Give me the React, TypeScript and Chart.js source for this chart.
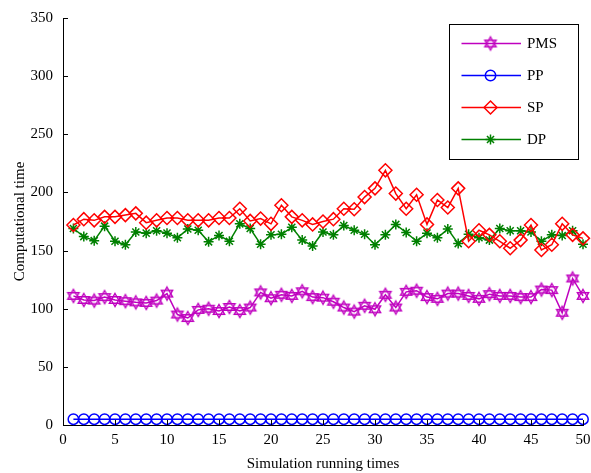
import { useEffect, useRef } from 'react';
import { Chart, registerables } from 'chart.js';
import { drawPoint } from 'chart.js/helpers';

Chart.register(...registerables);

const runs = [1, 2, 3, 4, 5, 6, 7, 8, 9, 10, 11, 12, 13, 14, 15, 16, 17, 18, 19, 20, 21, 22, 23, 24, 25, 26, 27, 28, 29, 30, 31, 32, 33, 34, 35, 36, 37, 38, 39, 40, 41, 42, 43, 44, 45, 46, 47, 48, 49, 50];

const pmsTimes = [111, 107.5, 107, 110, 107.5, 106.5, 105.5, 105, 107, 113, 95, 92, 99, 100, 98, 101.5, 98, 101, 114, 109, 112, 111, 115, 110, 109.5, 106, 101, 97.5, 102.5, 99.5, 112, 101, 114.5, 115.5, 110, 108.5, 113, 113, 111, 108.5, 112.5, 111, 111, 110, 110, 116.5, 116, 96.5, 126, 111];

const ppTimes = [5, 5, 5, 5, 5, 5, 5, 5, 5, 5, 5, 5, 5, 5, 5, 5, 5, 5, 5, 5, 5, 5, 5, 5, 5, 5, 5, 5, 5, 5, 5, 5, 5, 5, 5, 5, 5, 5, 5, 5, 5, 5, 5, 5, 5, 5, 5, 5, 5, 5];

const spTimes = [172, 177, 176, 179, 179, 180.5, 182, 174, 176, 178, 178, 176, 176, 176, 178, 178, 186, 175.5, 177.5, 173, 189, 179, 176, 172.5, 175, 177, 186, 185.5, 196, 203.5, 219, 199, 186, 198, 172.5, 193.5, 187, 203.5, 158, 167.5, 163.5, 158, 152, 159, 172, 150.5, 155, 173, 163.5, 160.5];

const dpTimes = [169, 162, 158.5, 171, 158, 155, 166, 165, 167, 165, 161, 168.5, 167.5, 157.5, 163, 158, 173, 169, 155.5, 163.5, 164, 170, 159, 154, 166, 163.5, 171.5, 167.5, 164, 155, 163.5, 172.5, 165.5, 158, 165, 161, 168.5, 156, 164, 161, 159, 169, 167, 167, 166, 158, 163.5, 163, 167, 155.5];

const seriesNames = ['PMS', 'PP', 'SP', 'DP'];
const xTicks = [0, 5, 10, 15, 20, 25, 30, 35, 40, 45, 50];
const yTicks = [0, 50, 100, 150, 200, 250, 300, 350];

const FONT = "'Liberation Serif', 'Times New Roman', serif";
const MAGENTA = '#bf00bf';
const BLUE = '#0000ff';
const RED = '#ff0000';
const GREEN = '#008000';

function makeHexagram(color: string, r: number, lw: number) {
  const size = 18;
  const c = document.createElement('canvas');
  c.width = size;
  c.height = size;
  const ctx = c.getContext('2d')!;
  ctx.strokeStyle = color;
  ctx.lineWidth = lw;
  ctx.lineJoin = 'miter';
  const cx = size / 2;
  const cy = size / 2;
  for (const off of [-Math.PI / 2, Math.PI / 2]) {
    ctx.beginPath();
    for (let k = 0; k < 3; k++) {
      const a = off + (k * 2 * Math.PI) / 3;
      const px = cx + r * Math.cos(a);
      const py = cy + r * Math.sin(a);
      if (k === 0) ctx.moveTo(px, py);
      else ctx.lineTo(px, py);
    }
    ctx.closePath();
    ctx.stroke();
  }
  return c;
}

function toXY(values: number[]) {
  return runs.map((r, i) => ({ x: r, y: values[i] }));
}

export default function App() {
  const ref = useRef<HTMLCanvasElement>(null);

  useEffect(() => {
    const canvas = ref.current!;
    const hexagram = makeHexagram(MAGENTA, 6.5, 1.4);

    const datasets: any[] = [
      { label: seriesNames[0], data: toXY(pmsTimes), borderColor: MAGENTA, pointStyle: hexagram, pointRadius: 6 },
      { label: seriesNames[1], data: toXY(ppTimes), borderColor: BLUE, pointStyle: 'circle', pointRadius: 5.2 },
      { label: seriesNames[2], data: toXY(spTimes), borderColor: RED, pointStyle: 'rectRot', pointRadius: 6.5 },
      { label: seriesNames[3], data: toXY(dpTimes), borderColor: GREEN, pointStyle: 'star', pointRadius: 5 },
    ].map((d) => ({
      ...d,
      backgroundColor: 'rgba(0,0,0,0)',
      pointBackgroundColor: 'rgba(0,0,0,0)',
      pointBorderColor: d.borderColor,
      borderWidth: 1.5,
      pointBorderWidth: 1.5,
      pointHoverRadius: d.pointRadius,
      tension: 0,
      clip: false,
    }));

    const matlabPlugin = {
      id: 'matlabDecor',
      afterDraw(chart: any) {
        const ctx = chart.ctx as CanvasRenderingContext2D;
        const xs = chart.scales.x;
        const ys = chart.scales.y;
        const area = chart.chartArea;
        ctx.save();
        // inward ticks
        ctx.strokeStyle = '#000';
        ctx.lineWidth = 1;
        ctx.beginPath();
        yTicks.forEach((v) => {
          const py = Math.round(ys.getPixelForValue(v)) + 0.5;
          ctx.moveTo(area.left, py);
          ctx.lineTo(area.left + 5, py);
        });
        xTicks.forEach((v) => {
          const px = Math.round(xs.getPixelForValue(v)) + 0.5;
          ctx.moveTo(px, area.bottom);
          ctx.lineTo(px, area.bottom - 5);
        });
        ctx.stroke();

        // legend
        const boxRight = area.right - 5;
        const boxLeft = boxRight - 129;
        const boxTop = area.top + 6;
        const boxH = 135;
        ctx.fillStyle = '#fff';
        ctx.fillRect(boxLeft, boxTop, boxRight - boxLeft, boxH);
        ctx.strokeStyle = '#000';
        ctx.lineWidth = 1;
        ctx.strokeRect(boxLeft + 0.5, boxTop + 0.5, boxRight - boxLeft, boxH);
        chart.data.datasets.forEach((ds: any, i: number) => {
          const ly = boxTop + 19.5 + i * 32;
          ctx.strokeStyle = ds.borderColor;
          ctx.lineWidth = 1.5;
          ctx.beginPath();
          ctx.moveTo(boxLeft + 12.5, ly);
          ctx.lineTo(boxLeft + 72, ly);
          ctx.stroke();
          ctx.fillStyle = 'rgba(0,0,0,0)';
          drawPoint(ctx, { pointStyle: ds.pointStyle, radius: ds.pointRadius, rotation: 0, borderWidth: 1.5 } as any, boxLeft + 41.5, ly);
          ctx.fillStyle = '#000';
          ctx.font = `15px ${FONT}`;
          ctx.textBaseline = 'middle';
          ctx.textAlign = 'left';
          ctx.fillText(ds.label, boxLeft + 78, ly + 1);
        });
        ctx.restore();
      },
    };

    Chart.defaults.color = '#000';
    Chart.defaults.font.family = FONT;
    Chart.defaults.font.size = 15;

    const chart = new Chart(canvas, {
      type: 'line',
      data: { datasets },
      options: {
        animation: false,
        responsive: false,
        maintainAspectRatio: false,
        layout: { padding: { left: 0, right: 4, top: 18, bottom: 0 } },
        plugins: {
          legend: { display: false },
          tooltip: { enabled: false },
        },
        scales: {
          x: {
            type: 'linear',
            min: 0,
            max: 50,
            grid: { display: false, drawTicks: false },
            border: { display: true, color: '#000', width: 1 },
            afterBuildTicks: (scale: any) => {
              scale.ticks = xTicks.map((v) => ({ value: v }));
            },
            ticks: { padding: 6, maxRotation: 0, autoSkip: false, color: '#000', font: { size: 15, family: FONT } },
            title: {
              display: true,
              text: 'Simulation running times',
              color: '#000',
              font: { size: 15, family: FONT },
              padding: { top: 2, bottom: 0 },
            },
            afterFit: (scale: any) => {
              scale.height = 48;
              scale.paddingLeft = 0;
              scale.paddingRight = 0;
            },
          },
          y: {
            type: 'linear',
            min: 0,
            max: 350,
            grid: { display: false, drawTicks: false },
            border: { display: true, color: '#000', width: 1 },
            afterBuildTicks: (scale: any) => {
              scale.ticks = yTicks.map((v) => ({ value: v }));
            },
            ticks: { padding: 10, autoSkip: false, color: '#000', font: { size: 15, family: FONT } },
            title: {
              display: true,
              text: 'Computational time',
              color: '#000',
              font: { size: 15, family: FONT },
              padding: { top: 11, bottom: 0 },
            },
            afterFit: (scale: any) => {
              scale.width = 63;
              scale.paddingTop = 0;
              scale.paddingBottom = 0;
            },
          },
        },
      },
      plugins: [matlabPlugin],
    });

    return () => chart.destroy();
  }, []);

  return (
    <div style={{ position: 'fixed', left: 0, top: 0, width: 591, height: 473, background: '#fff' }}>
      <canvas ref={ref} width={591} height={473} style={{ display: 'block', width: 591, height: 473 }} />
    </div>
  );
}
